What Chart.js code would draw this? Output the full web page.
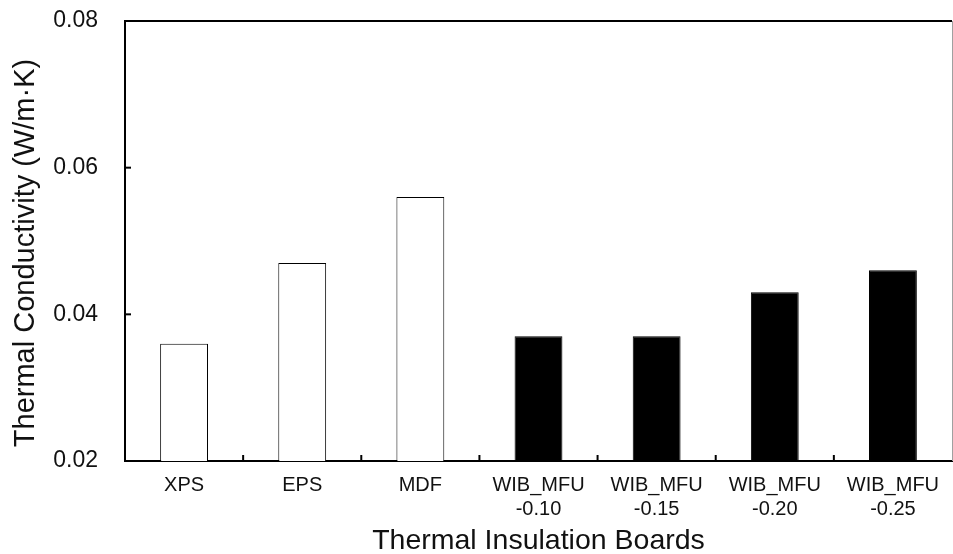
<!DOCTYPE html>
<html>
<head>
<meta charset="utf-8">
<title>Thermal Conductivity of Thermal Insulation Boards</title>
<script src="https://cdn.jsdelivr.net/npm/chart.js@4.4.1/dist/chart.umd.min.js"></script>
<style>
  html, body { margin: 0; padding: 0; background: #fff; }
  #wrap { position: relative; width: 953px; height: 554px; }
</style>
</head>
<body>
<div id="wrap"><canvas id="chart"></canvas></div>
<script>
// Board types on the category axis (multi-line labels as arrays)
const boardLabels = [
  'XPS',
  'EPS',
  'MDF',
  ['WIB_MFU', '-0.10'],
  ['WIB_MFU', '-0.15'],
  ['WIB_MFU', '-0.20'],
  ['WIB_MFU', '-0.25']
];

// Thermal conductivity, W/m·K
const conductivity = [0.036, 0.047, 0.056, 0.037, 0.037, 0.043, 0.046];

// Value axis range and tick step
const yMin = 0.02;
const yMax = 0.08;
const yStep = 0.02;

const xTitle = 'Thermal Insulation Boards';
const yTitle = 'Thermal Conductivity (W/m\u00B7K)';

const FONT = '"Liberation Sans", Arial, Helvetica, sans-serif';

// Frame, inward tick marks and the rotated value-axis title
const frameAndTicks = {
  id: 'frameAndTicks',
  afterDatasetsDraw(chart) {
    const { ctx, chartArea: a, scales: { x, y } } = chart;
    ctx.save();
    ctx.strokeStyle = '#000';
    ctx.lineWidth = 2;

    y.ticks.forEach(t => {
      const py = y.getPixelForValue(t.value);
      ctx.beginPath();
      ctx.moveTo(a.left, py);
      ctx.lineTo(a.left + 6, py);
      ctx.stroke();
    });

    for (let i = 1; i < x.ticks.length; i++) {
      const px = (x.getPixelForTick(i - 1) + x.getPixelForTick(i)) / 2;
      ctx.beginPath();
      ctx.moveTo(px, a.bottom);
      ctx.lineTo(px, a.bottom - 6);
      ctx.stroke();
    }

    ctx.beginPath();
    ctx.moveTo(a.left - 1, a.top);
    ctx.lineTo(a.right, a.top);
    ctx.stroke();

    ctx.strokeStyle = '#a0a0a0';
    ctx.lineWidth = 1;
    ctx.beginPath();
    ctx.moveTo(a.right + 0.5, a.top);
    ctx.lineTo(a.right + 0.5, a.bottom);
    ctx.stroke();

    ctx.translate(26, (a.top + a.bottom) / 2 + 12);
    ctx.rotate(-Math.PI / 2);
    ctx.fillStyle = '#111';
    ctx.font = '29px ' + FONT;
    ctx.textAlign = 'center';
    ctx.textBaseline = 'middle';
    ctx.fillText(yTitle, 0, 0);
    ctx.restore();
  }
};

new Chart(document.getElementById('chart'), {
  type: 'bar',
  data: {
    labels: boardLabels,
    datasets: [{
      data: conductivity,
      backgroundColor: c => {
        const lab = boardLabels[c.dataIndex];
        return Array.isArray(lab) && lab[0].startsWith('WIB') ? '#000' : '#fff';
      },
      borderColor: '#000',
      borderWidth: 1,
      categoryPercentage: 1.0,
      barPercentage: 0.405
    }]
  },
  options: {
    responsive: true,
    maintainAspectRatio: false,
    animation: false,
    devicePixelRatio: 1,
    layout: { padding: { top: 21, right: 1, left: 0, bottom: 0 } },
    plugins: {
      legend: { display: false },
      tooltip: { enabled: false }
    },
    scales: {
      x: {
        type: 'category',
        offset: true,
        grid: { display: false, drawTicks: false },
        border: { display: true, color: '#000', width: 2 },
        ticks: {
          color: '#111',
          font: { family: FONT, size: 20, lineHeight: 1.2 },
          padding: 12,
          maxRotation: 0,
          autoSkip: false
        },
        title: {
          display: true,
          text: xTitle,
          color: '#111',
          font: { family: FONT, size: 28.5, lineHeight: 0.9 },
          padding: { top: 0, bottom: 0 }
        },
        afterFit: s => { s.height = 93; }
      },
      y: {
        type: 'linear',
        min: yMin,
        max: yMax,
        grid: { display: false, drawTicks: false },
        border: { display: true, color: '#000', width: 2 },
        ticks: {
          stepSize: yStep,
          color: '#111',
          font: { family: FONT, size: 23 },
          padding: 27,
          callback: v => Number(v).toFixed(2)
        },
        afterFit: s => {
          s.width = 125;
          s.paddingTop = 0;
          s.paddingBottom = 0;
        }
      }
    }
  },
  plugins: [frameAndTicks]
});
</script>
</body>
</html>
